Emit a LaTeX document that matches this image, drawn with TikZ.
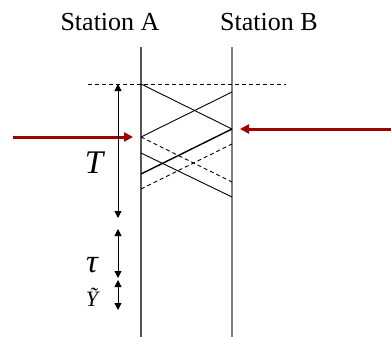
\documentclass[tikz,border=0pt]{standalone}
\usepackage{fontspec}
\setmainfont{Liberation Serif}
\usepackage{tikz}
\usetikzlibrary{arrows.meta,positioning}
\definecolor{sigRed}{HTML}{A00000}
\definecolor{lineGray}{HTML}{555555}
\tikzset{
  station/.style={draw=lineGray, line width=0.8pt},
  ray/.style={draw=black, line width=0.45pt},
  rayd/.style={ray, dash pattern=on 2pt off 1.5pt},
  span/.style={{Triangle[width=3.5pt,length=3.5pt]}-{Triangle[width=3.5pt,length=3.5pt]}, line width=0.5pt},
  signal/.style={-{Triangle[width=4.5pt,length=4.5pt]}, line width=1.5pt, draw=sigRed, fill=sigRed},
  title/.style={font=\fontsize{13}{15}\selectfont},
  sym/.style={font=\fontsize{16.5}{18}\selectfont\itshape}
}

\begin{document}
\begin{tikzpicture}[x=0.5pt,y=-0.5pt]
\useasboundingbox (0,0) rectangle (391,337);
% stations
\node[title] (sa) at (110,22) {Station A};
\node[title] (sb) at (269,22) {Station B};
\coordinate (atop) at (141,47);
\coordinate (abot) at (141,337);
\coordinate (btop) at (232,47);
\coordinate (bbot) at (232,337);
\draw[station] (atop) -- (abot);
\draw[station, draw=lineGray!75] (btop) -- (bbot);
% reference line
\coordinate (refl) at (88,84);
\coordinate (refr) at (286,84);
\draw[rayd] (refl) -- (refr);
% points on station A
\coordinate (a1) at (141,84);
\coordinate (a2) at (141,137);
\coordinate (a3) at (141,153);
\coordinate (a4) at (141,174);
\coordinate (a5) at (141,189);
% points on station B
\coordinate (b1) at (232,92);
\coordinate (b2) at (232,129);
\coordinate (b3) at (232,144);
\coordinate (b4) at (232,182);
\coordinate (b5) at (232,197);
% frames
\draw[ray] (a1) -- (b2);
\draw[ray] (a2) -- (b1);
\draw[ray] (a3) -- (b5);
\draw[ray, line width=0.7pt] (a4) -- (b2);
\draw[rayd] (a2) -- (b4);
\draw[rayd] (a5) -- (b3);
% incoming signals
\coordinate (inl) at (13,137);
\coordinate (inl2) at (133,137);
\coordinate (inr) at (391,129);
\coordinate (inr2) at (240,129);
\draw[signal] (inl) -- (inl2);
\draw[signal] (inr) -- (inr2);
% durations
\coordinate (t0) at (118,84);
\coordinate (t1) at (118,218);
\coordinate (u0) at (118,229);
\coordinate (u1) at (118,278);
\coordinate (v0) at (118,280);
\coordinate (v1) at (118,310);
\draw[span] (t0) -- (t1);
\draw[span] (u0) -- (u1);
\draw[span] (v0) -- (v1);
\node[sym] (lt) at (94,163) {T};
\node[sym] (ltau) at (92,265) {τ};
\node[sym, font=\fontsize{11}{13}\selectfont\itshape] (ly) at (92,297) {Ỹ};
\end{tikzpicture}
\end{document}
